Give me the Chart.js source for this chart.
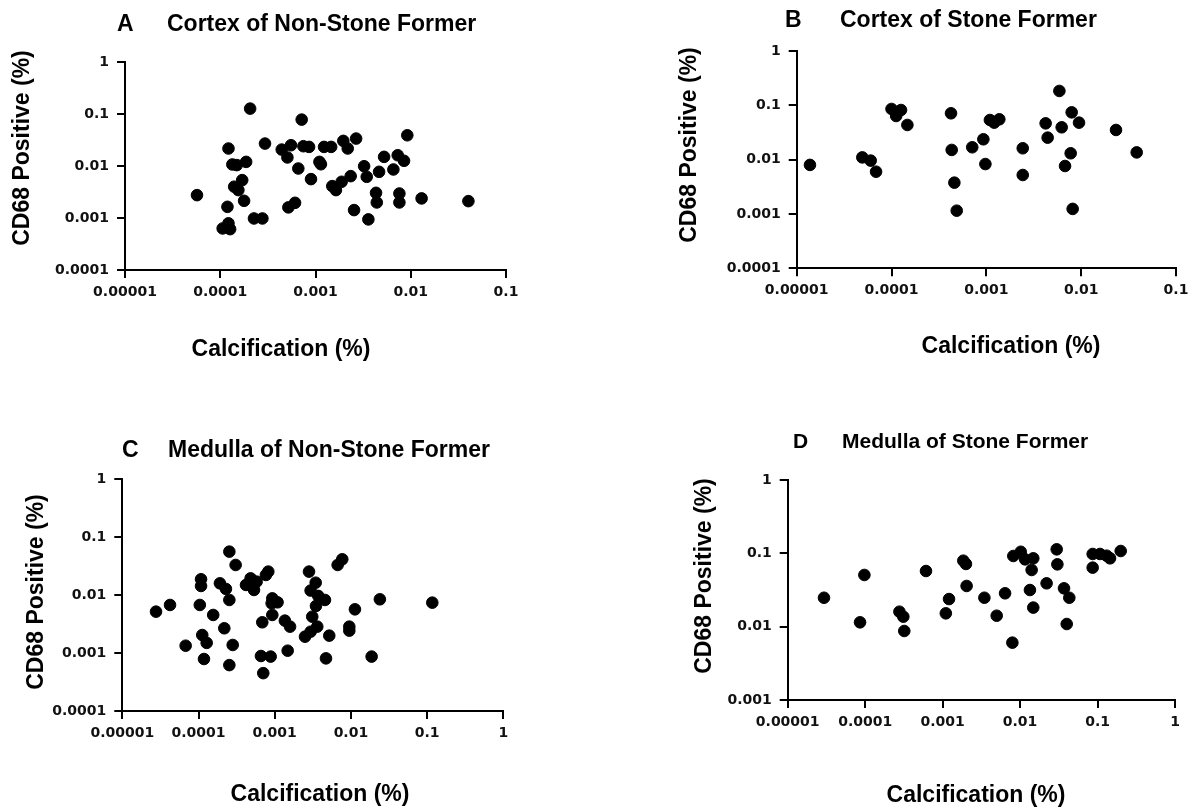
<!DOCTYPE html>
<html>
<head>
<meta charset="utf-8">
<script src="https://cdn.jsdelivr.net/npm/chart.js@4.4.1/dist/chart.umd.min.js"></script>
<style>
  body { margin: 0; background: #fff; }
  #wrap { position: relative; width: 1196px; height: 810px; }
  .panel { position: absolute; width: 598px; height: 405px; }
</style>
</head>
<body>
<div id="wrap">
  <div class="panel" style="left:0;top:0"><canvas id="chartA"></canvas></div>
  <div class="panel" style="left:598px;top:0"><canvas id="chartB"></canvas></div>
  <div class="panel" style="left:0;top:405px"><canvas id="chartC"></canvas></div>
  <div class="panel" style="left:598px;top:405px"><canvas id="chartD"></canvas></div>
</div>
<script>
// Panel texts
const panelLetters = ['A', 'B', 'C', 'D'];
const panelTitles = ['Cortex of Non-Stone Former', 'Cortex of Stone Former', 'Medulla of Non-Stone Former', 'Medulla of Stone Former'];
const xAxisTitle = 'Calcification (%)';
const yAxisTitle = 'CD68 Positive (%)';

// Tick values and labels
const xTicksShort = [0.00001, 0.0001, 0.001, 0.01, 0.1];
const xLabelsShort = ['0.00001', '0.0001', '0.001', '0.01', '0.1'];
const xTicksLong = [0.00001, 0.0001, 0.001, 0.01, 0.1, 1];
const xLabelsLong = ['0.00001', '0.0001', '0.001', '0.01', '0.1', '1'];
const yTicksLong = [0.0001, 0.001, 0.01, 0.1, 1];
const yLabelsLong = ['0.0001', '0.001', '0.01', '0.1', '1'];
const yTicksShort = [0.001, 0.01, 0.1, 1];
const yLabelsShort = ['0.001', '0.01', '0.1', '1'];

// A - Cortex of Non-Stone Former
const aCalc = [5.7e-5, 1.22e-4, 1.34e-4, 1.49e-4, 1.87e-4, 1.7e-4, 1.4e-4, 1.55e-4, 1.78e-4, 1.19e-4, 1.06e-4, 1.22e-4, 1.27e-4, 2.06e-4, 2.26e-4, 2.77e-4, 2.95e-4, 4.42e-4, 5.53e-4, 5.07e-4, 6.6e-4, 7.16e-4, 7.46e-4, 8.56e-4, 5.19e-4, 6.1e-4, 8.97e-4, 1.1e-3, 1.14e-3, 1.23e-3, 1.46e-3, 1.5e-3, 1.64e-3, 1.88e-3, 1.96e-3, 2.18e-3, 2.34e-3, 2.67e-3, 2.54e-3, 3.24e-3, 3.45e-3, 3.59e-3, 4.32e-3, 4.4e-3, 4.65e-3, 5.25e-3, 6.57e-3, 7.3e-3, 7.6e-3, 7.6e-3, 8.5e-3, 9.2e-3, 0.013, 0.0403];
const aCD68 = [0.00275, 0.0217, 0.0107, 0.0104, 0.012, 0.00535, 0.004, 0.00344, 0.00214, 0.00164, 0.00063, 0.00079, 0.00061, 0.127, 0.00098, 0.00098, 0.027, 0.0207, 0.0251, 0.0146, 0.00895, 0.078, 0.024, 0.0233, 0.0016, 0.00196, 0.00559, 0.012, 0.0108, 0.0233, 0.0233, 0.0041, 0.00344, 0.00497, 0.0304, 0.0217, 0.00638, 0.0337, 0.00142, 0.0099, 0.0062, 0.00094, 0.00305, 0.00199, 0.00773, 0.015, 0.00857, 0.0161, 0.00296, 0.00199, 0.0126, 0.039, 0.00238, 0.00211];

// B - Cortex of Stone Former
const bCalc = [1.38e-5, 4.92e-5, 6.03e-5, 6.87e-5, 1.0e-4, 1.12e-4, 1.26e-4, 1.47e-4, 4.24e-4, 4.31e-4, 4.6e-4, 4.87e-4, 7.1e-4, 9.3e-4, 9.77e-4, 1.09e-3, 1.21e-3, 1.37e-3, 2.42e-3, 2.42e-3, 4.22e-3, 4.43e-3, 5.89e-3, 6.23e-3, 7.94e-3, 7.75e-3, 6.76e-3, 8.13e-3, 9.49e-3, 0.0233, 0.0385];
const bCD68 = [0.008, 0.011, 0.0096, 0.006, 0.0857, 0.0636, 0.082, 0.0435, 0.0713, 0.0151, 0.00377, 0.00115, 0.0169, 0.0237, 0.0083, 0.0537, 0.048, 0.0553, 0.0162, 0.00522, 0.0466, 0.0254, 0.184, 0.0394, 0.0743, 0.0131, 0.00764, 0.00124, 0.048, 0.0352, 0.0136];

// C - Medulla of Non-Stone Former
const cCalc = [2.77e-5, 4.23e-5, 6.78e-5, 1.08e-4, 1.08e-4, 1.04e-4, 1.12e-4, 1.28e-4, 1.18e-4, 1.56e-4, 1.91e-4, 2.29e-4, 2.54e-4, 2.18e-4, 2.81e-4, 2.54e-4, 2.54e-4, 3.07e-4, 4.2e-4, 4.83e-4, 5.79e-4, 5.35e-4, 7.67e-4, 8.24e-4, 6.87e-4, 6.6e-4, 8.85e-4, 7.08e-4, 9.3e-4, 9.12e-4, 1.09e-3, 9.3e-4, 1.36e-3, 1.59e-3, 1.48e-3, 2.82e-3, 3.45e-3, 2.96e-3, 3.73e-3, 4.57e-3, 3.48e-3, 3.11e-3, 3.62e-3, 2.96e-3, 2.5e-3, 5.2e-3, 4.71e-3, 6.7e-3, 7.7e-3, 9.53e-3, 9.53e-3, 0.0113, 0.0187, 0.024, 0.117];
const cCD68 = [0.00519, 0.00677, 0.00134, 0.0188, 0.0144, 0.00677, 0.00205, 0.0015, 0.00079, 0.00455, 0.016, 0.0128, 0.00826, 0.00268, 0.00138, 0.00062, 0.0564, 0.0332, 0.015, 0.0195, 0.0171, 0.0123, 0.0223, 0.0255, 0.0034, 0.00089, 0.00087, 0.00045, 0.0088, 0.00723, 0.00752, 0.00455, 0.00363, 0.00286, 0.0011, 0.0255, 0.0164, 0.012, 0.0097, 0.00826, 0.0065, 0.00425, 0.00286, 0.00234, 0.00192, 0.002, 0.00081, 0.0332, 0.0416, 0.00286, 0.00244, 0.00569, 0.00087, 0.00848, 0.00742];

// D - Medulla of Stone Former
const dCalc = [2.94e-5, 9.77e-5, 8.59e-5, 2.77e-4, 3.11e-4, 3.2e-4, 6.1e-4, 1.1e-3, 1.21e-3, 1.85e-3, 2.0e-3, 2.04e-3, 3.46e-3, 4.99e-3, 6.4e-3, 7.95e-3, 8.18e-3, 0.0102, 0.0116, 0.0148, 0.0141, 0.0134, 0.0148, 0.022, 0.0297, 0.0303, 0.0369, 0.0432, 0.04, 0.0865, 0.0865, 0.1076, 0.131, 0.145, 0.199];
const dCD68 = [0.0248, 0.0507, 0.01146, 0.016, 0.01368, 0.00873, 0.0574, 0.0152, 0.0238, 0.0794, 0.0716, 0.0359, 0.0248, 0.0141, 0.0285, 0.00605, 0.092, 0.105, 0.0828, 0.0855, 0.0593, 0.0316, 0.0182, 0.039, 0.1134, 0.0708, 0.0333, 0.0248, 0.01087, 0.098, 0.0638, 0.098, 0.0929, 0.0855, 0.1076];

const TITLE_FONT = '"Liberation Sans", Arial, sans-serif';
const TICK_FONT = { family: '"DejaVu Sans", sans-serif', size: 14, weight: 'bold' };

// draws panel letter, title and axis titles
const panelText = {
  id: 'panelText',
  afterDraw(chart, args, o) {
    const ctx = chart.ctx;
    ctx.save();
    ctx.fillStyle = '#000';
    ctx.font = 'bold ' + o.titleSize + 'px ' + TITLE_FONT;
    ctx.textAlign = 'left';
    ctx.textBaseline = 'alphabetic';
    ctx.fillText(o.letter, o.letterX, o.titleY);
    ctx.fillText(o.title, o.titleX, o.titleY);
    ctx.font = 'bold 23px ' + TITLE_FONT;
    ctx.textAlign = 'center';
    ctx.textBaseline = 'middle';
    ctx.fillText(xAxisTitle, o.xTitleX, o.xTitleY);
    ctx.translate(o.yTitleX, o.yTitleY);
    ctx.rotate(-Math.PI / 2);
    ctx.fillText(yAxisTitle, 0, 0);
    ctx.restore();
  }
};

function axis(min, max, ticks, labels, horizontal, pad) {
  return {
    type: 'logarithmic',
    min: min,
    max: max,
    afterBuildTicks: s => { s.ticks = ticks.map(v => ({ value: v })); },
    afterFit: s => { if (horizontal) s.height = 40; else s.width = 100; },
    ticks: {
      autoSkip: false,
      maxRotation: 0,
      color: '#111',
      font: TICK_FONT,
      padding: pad,
      callback: (v, i) => labels[i]
    },
    grid: { drawOnChartArea: false, drawTicks: true, tickLength: 8, color: '#000', lineWidth: 2 },
    border: { display: true, color: '#000', width: 2 }
  };
}

function makeChart(id, xs, ys, xAxis, yAxis, padding, text) {
  const pts = xs.map((x, i) => ({ x: x, y: ys[i] }));
  return new Chart(document.getElementById(id), {
    type: 'scatter',
    data: {
      datasets: [{
        data: pts,
        backgroundColor: '#000',
        borderColor: '#000',
        pointRadius: 5.8,
        pointHoverRadius: 5.8
      }]
    },
    options: {
      responsive: true,
      maintainAspectRatio: false,
      animation: false,
      layout: { padding: padding },
      plugins: {
        legend: { display: false },
        tooltip: { enabled: false },
        panelText: text
      },
      scales: { x: xAxis, y: yAxis }
    },
    plugins: [panelText]
  });
}

makeChart('chartA', aCalc, aCD68,
  axis(0.00001, 0.1, xTicksShort, xLabelsShort, true, 6),
  axis(0.0001, 1, yTicksLong, yLabelsLong, false, 8),
  { left: 25, top: 62, right: 92, bottom: 95 },
  { letter: panelLetters[0], title: panelTitles[0], titleSize: 23, letterX: 117, titleX: 167, titleY: 31,
    xTitleX: 281, xTitleY: 350, yTitleX: 23, yTitleY: 148 });

makeChart('chartB', bCalc, bCD68,
  axis(0.00001, 0.1, xTicksShort, xLabelsShort, true, 6),
  axis(0.0001, 1, yTicksLong, yLabelsLong, false, 8),
  { left: 98.7, top: 51, right: 20, bottom: 96.7 },
  { letter: panelLetters[1], title: panelTitles[1], titleSize: 23, letterX: 187, titleX: 242, titleY: 27,
    xTitleX: 413, xTitleY: 347, yTitleX: 92, yTitleY: 145 });

makeChart('chartC', cCalc, cCD68,
  axis(0.00001, 1, xTicksLong, xLabelsLong, true, 6),
  axis(0.0001, 1, yTicksLong, yLabelsLong, false, 8),
  { left: 22.3, top: 74.3, right: 94.7, bottom: 59 },
  { letter: panelLetters[2], title: panelTitles[2], titleSize: 23, letterX: 122, titleX: 168, titleY: 52,
    xTitleX: 320, xTitleY: 390, yTitleX: 37, yTitleY: 187 });

makeChart('chartD', dCalc, dCD68,
  axis(0.00001, 1, xTicksLong, xLabelsLong, true, 6),
  axis(0.001, 1, yTicksShort, yLabelsShort, false, 8),
  { left: 89.7, top: 75, right: 21, bottom: 70 },
  { letter: panelLetters[3], title: panelTitles[3], titleSize: 21, letterX: 195, titleX: 244, titleY: 43,
    xTitleX: 378, xTitleY: 391, yTitleX: 107, yTitleY: 171 });
</script>
</body>
</html>
